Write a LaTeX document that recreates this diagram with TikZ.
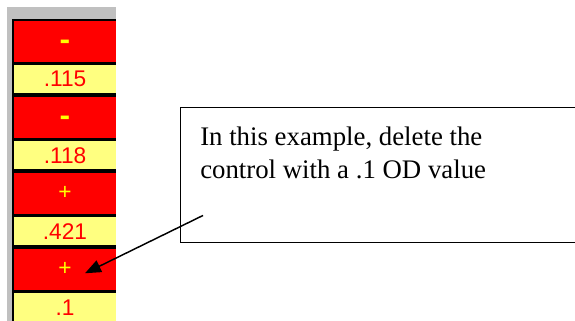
\documentclass[tikz,border=0pt]{standalone}
\usepackage{fontspec}
\setmainfont{Liberation Serif}
\newfontfamily\cellfont{Liberation Sans}
\usetikzlibrary{arrows.meta, positioning, calc}
\definecolor{panelgray}{RGB}{192,192,192}
\definecolor{cellred}{RGB}{255,0,0}
\definecolor{cellyellow}{RGB}{255,255,128}
\definecolor{signyellow}{RGB}{255,255,0}
\newcommand{\minussign}{\raisebox{0pt}[0.74em][0pt]{\scalebox{1.4}[1.3]{\textbf{-}}}}

\begin{document}
\begin{tikzpicture}[
    x=0.75pt, y=-0.75pt,
    node distance=2.8pt,
    signcell/.style={rectangle, fill=cellred, text=signyellow, inner sep=0pt, outer sep=0pt,
                     minimum width=76.5pt, minimum height=30.4pt, font=\cellfont\fontsize{17}{17}\selectfont},
    valuecell/.style={rectangle, fill=cellyellow, text=cellred, inner sep=0pt, outer sep=0pt,
                      minimum width=76.5pt, minimum height=21pt, font=\cellfont\fontsize{17}{17}\selectfont},
    notebox/.style={rectangle, draw=black, line width=1.1pt, inner sep=0pt,
                    minimum width=315pt, minimum height=101.25pt},
    notetext/.style={align=left, inner sep=0pt, font=\fontsize{20.1}{24.7}\selectfont},
    pointer/.style={-{Triangle[length=12pt, width=9.5pt]}, line width=1.1pt, draw=black}
]

\useasboundingbox (0,0) rectangle (575,321);
\fill[white] (0,0) rectangle (575,321);

% table panel
\fill[panelgray] (7,7) rectangle (116,321);
\fill[black] (12,19) rectangle (116,321);

\node[signcell, anchor=north west] (sign1) at (14,21) {\minussign};
\node[valuecell, below=of sign1] (value1) {.115};
\node[signcell, below=of value1] (sign2) {\minussign};
\node[valuecell, below=of sign2] (value2) {.118};
\node[signcell, below=of value2] (sign3) {+};
\node[valuecell, below=of sign3] (value3) {.421};
\node[signcell, below=of value3] (sign4) {+};
\node[valuecell, below=of sign4] (value4) {.1};

% callout
\node[notebox, anchor=north west] (note) at (180,107) {};
\node[notetext, anchor=north west] (notetext) at ($(note.north west)+(20,20)$)
    {In this example, delete the\\control with a .1 OD value};

\coordinate (tail) at ($(note.south west)+(23,-28)$);
\coordinate (tip) at ($(sign4.center)+(20,4)$);
\draw[pointer] (tail) -- (tip);

\end{tikzpicture}
\end{document}
